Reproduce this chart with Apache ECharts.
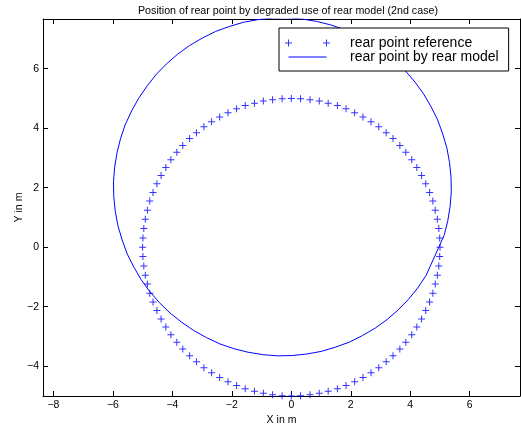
<!DOCTYPE html>
<html>
<head>
<meta charset="utf-8">
<script src="https://cdn.jsdelivr.net/npm/echarts@6/dist/echarts.min.js"></script>
<style>
html,body{margin:0;padding:0;background:#fff;}
#chart{width:521px;height:432px;}
</style>
</head>
<body>
<div id="chart"></div>
<script>
// ---- data ----
const titleText = 'Position of rear point by degraded use of rear model (2nd case)';
const seriesNames = ['rear point reference', 'rear point by rear model'];
const xTicks = [-8, -6, -4, -2, 0, 2, 4, 6];
const yTicks = [-4, -2, 0, 2, 4, 6];
const xRange = [-8.35, 7.69];
const yRange = [-5, 7.67];

const refX = [5.00,4.99,4.96,4.91,4.84,4.76,4.65,4.52,4.38,4.22,4.05,3.85,3.65,3.42,3.19,2.94,2.68,2.41,2.13,1.84,1.55,1.24,0.94,0.63,0.31,0.00,
  -0.31,-0.63,-0.94,-1.24,-1.55,-1.84,-2.13,-2.41,-2.68,-2.94,-3.19,-3.42,-3.65,-3.85,-4.05,-4.22,-4.38,-4.52,-4.65,-4.76,-4.84,-4.91,-4.96,-4.99,-5.00,
  -4.99,-4.96,-4.91,-4.84,-4.76,-4.65,-4.52,-4.38,-4.22,-4.05,-3.85,-3.65,-3.42,-3.19,-2.94,-2.68,-2.41,-2.13,-1.84,-1.55,-1.24,-0.94,-0.63,-0.31,0.00,
  0.31,0.63,0.94,1.24,1.55,1.84,2.13,2.41,2.68,2.94,3.19,3.42,3.65,3.85,4.05,4.22,4.38,4.52,4.65,4.76,4.84,4.91,4.96,4.99];
const refY = [0.00,0.31,0.63,0.94,1.24,1.55,1.84,2.13,2.41,2.68,2.94,3.19,3.42,3.65,3.85,4.05,4.22,4.38,4.52,4.65,4.76,4.84,4.91,4.96,4.99,5.00,
  4.99,4.96,4.91,4.84,4.76,4.65,4.52,4.38,4.22,4.05,3.85,3.65,3.42,3.19,2.94,2.68,2.41,2.13,1.84,1.55,1.24,0.94,0.63,0.31,0.00,
  -0.31,-0.63,-0.94,-1.24,-1.55,-1.84,-2.13,-2.41,-2.68,-2.94,-3.19,-3.42,-3.65,-3.85,-4.05,-4.22,-4.38,-4.52,-4.65,-4.76,-4.84,-4.91,-4.96,-4.99,-5.00,
  -4.99,-4.96,-4.91,-4.84,-4.76,-4.65,-4.52,-4.38,-4.22,-4.05,-3.85,-3.65,-3.42,-3.19,-2.94,-2.68,-2.41,-2.13,-1.84,-1.55,-1.24,-0.94,-0.63,-0.31];

const rearX = [5.14,5.26,5.34,5.38,5.37,5.32,5.23,5.09,4.92,4.70,4.45,4.16,3.83,3.48,3.09,2.68,2.25,1.80,1.33,0.85,0.36,-0.13,
  -0.63,-1.12,-1.61,-2.08,-2.55,-2.99,-3.42,-3.82,-4.20,-4.54,-4.85,-5.13,-5.37,-5.58,-5.74,-5.86,-5.94,-5.98,
  -5.97,-5.92,-5.83,-5.69,-5.52,-5.30,-5.05,-4.76,-4.43,-4.08,-3.69,-3.28,-2.85,-2.40,-1.93,-1.45,-0.96,-0.47,
  0.03,0.52,1.01,1.48,1.95,2.39,2.82,3.22,3.60,3.94,4.25,4.53,5.14];
const rearY = [0.40,0.88,1.37,1.86,2.36,2.85,3.34,3.81,4.28,4.72,5.15,5.55,5.93,6.27,6.58,6.86,7.10,7.31,7.47,7.59,7.67,7.71,
  7.70,7.65,7.56,7.42,7.25,7.03,6.78,6.49,6.16,5.81,5.42,5.01,4.58,4.13,3.66,3.18,2.69,2.20,
  1.70,1.21,0.72,0.25,-0.22,-0.66,-1.09,-1.49,-1.87,-2.21,-2.52,-2.80,-3.04,-3.25,-3.41,-3.53,-3.61,-3.65,
  -3.64,-3.59,-3.50,-3.36,-3.19,-2.97,-2.72,-2.43,-2.10,-1.75,-1.37,-0.95,0.40];

// ---- chart ----
const FONT = 'Liberation Sans';
const BLUE = '#0000ff';
const refData = refX.map((x, i) => [x, refY[i]]);
const rearData = rearX.map((x, i) => [x, rearY[i]]);
const fmt = v => String(v).replace('-', '\u2212');

const plusPath = 'path://M0,3h7v1h-7zM3,0h1v7h-1z';
const legendPlusIcon = 'path://M0,0h0.01v0.01h-0.01zM59.99,7.99h0.01v0.01h-0.01zM0,3.5h7v1h-7zM3,0.5h1v7h-1zM38,3.5h7v1h-7zM41,0.5h1v7h-1z';
const legendLineIcon = 'path://M0,0h0.01v0.01h-0.01zM59.99,7.99h0.01v0.01h-0.01zM3.5,3.5h38v1h-38z';

function axisCommon(isX, ticks, range, show) {
  return {
    type: 'value',
    min: range[0], max: range[1],
    splitNumber: isX ? 8 : 6,
    axisLine: {show: true, onZero: false, lineStyle: {color: '#000', width: 1}},
    axisTick: {show: true, inside: true, length: 5, customValues: ticks, lineStyle: {color: '#000', width: 1}},
    axisLabel: {show: show, customValues: ticks, formatter: fmt, color: '#000', fontSize: 10.5, fontFamily: FONT, margin: 4},
    splitLine: {show: false}
  };
}

const chart = echarts.init(document.getElementById('chart'), null, {renderer: 'canvas'});
chart.setOption({
  animation: false,
  backgroundColor: '#fff',
  textStyle: {fontFamily: FONT},
  title: {
    text: titleText, left: 283, top: 1, textAlign: 'center',
    textStyle: {fontSize: 10.7, fontWeight: 'normal', color: '#000', fontFamily: FONT}
  },
  grid: {left: 43, right: 1, top: 19, bottom: 36, containLabel: false},
  xAxis: [
    Object.assign(axisCommon(true, xTicks, xRange, true), {position: 'bottom', name: 'X in m', nameLocation: 'middle', nameGap: 19, nameMoveOverlap: false, nameTextStyle: {color: '#000', fontSize: 10.5, fontFamily: FONT}}),
    Object.assign(axisCommon(true, xTicks, xRange, false), {position: 'top'})
  ],
  yAxis: [
    Object.assign(axisCommon(false, yTicks, yRange, true), {position: 'left', name: 'Y in m', nameLocation: 'middle', nameRotate: 90, nameGap: 18, nameMoveOverlap: false, nameTextStyle: {color: '#000', fontSize: 10.5, fontFamily: FONT}}),
    Object.assign(axisCommon(false, yTicks, yRange, false), {position: 'right'})
  ],
  legend: {
    orient: 'vertical', left: 279, top: 28,
    padding: [8, 10, 7, 6],
    itemWidth: 60, itemHeight: 8, itemGap: 0,
    borderColor: '#000', borderWidth: 1, backgroundColor: '#fff',
    textStyle: {fontSize: 14, color: '#000', fontFamily: FONT, lineHeight: 14},
    data: [
      {name: seriesNames[0], icon: legendPlusIcon},
      {name: seriesNames[1], icon: legendLineIcon}
    ]
  },
  series: [
    {
      name: seriesNames[0], type: 'scatter', data: refData,
      symbol: plusPath, symbolSize: 7,
      itemStyle: {color: BLUE}, clip: false, silent: true
    },
    {
      name: seriesNames[1], type: 'line', data: rearData,
      symbol: 'none', showSymbol: false, smooth: false,
      lineStyle: {color: BLUE, width: 1}, itemStyle: {color: BLUE},
      clip: true, silent: true, z: 3
    }
  ]
});
</script>
</body>
</html>
